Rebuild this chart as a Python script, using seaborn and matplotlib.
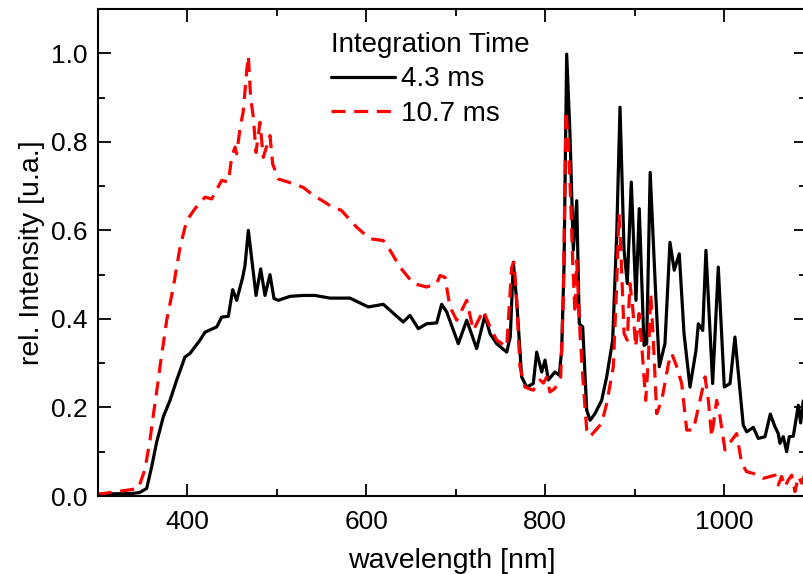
import matplotlib
matplotlib.use("Agg")
import matplotlib.pyplot as plt
from matplotlib.ticker import MultipleLocator
import seaborn as sns
import pandas as pd

# ---- data ----
wl_43 = [300, 320, 340, 347, 354.7, 360.3, 365.9, 369.6, 373.3, 380.8, 388.3, 397.5, 403.1,
         414.3, 419.9, 433, 438.5, 446, 450.8, 455.3, 462, 464.6, 468.3, 472.7, 476.9, 482.1,
         486.9, 492.5, 497, 501.8, 514.9, 529.7, 542.8, 559.6, 581.9, 602.4, 619.1, 641.4,
         648.9, 658.2, 667.6, 678.8, 684.3, 689.9, 702.9, 712.3, 723.4, 732.7, 738.3, 745.8,
         757, 761, 764.4, 768.1, 773.7, 779.3, 786.7, 790.5, 796.1, 799.8, 803.5, 810.9,
         815.7, 818.4, 821, 824, 827.7, 831.4, 835.2, 838.1, 841.9, 846.4, 850.1, 855.6,
         863.1, 868.7, 875.4, 879.9, 883.6, 888.1, 891.7, 896.2, 901.4, 905.1, 910.4, 913.4,
         917.3, 922.9, 927.5, 933.8, 939.4, 944.2, 949.8, 955.1, 961.8, 968.5, 971.1, 976,
         979.6, 987.1, 993.4, 1000.1, 1006.5, 1012, 1016.9, 1021.3, 1025.1, 1032.5, 1038.1,
         1045.6, 1051.5, 1056.8, 1060.4, 1062.3, 1066, 1069.8, 1072.7, 1077.2, 1082.8,
         1085.4, 1088.4, 1092]
int_43 = [0.004, 0.005, 0.006, 0.008, 0.017, 0.066, 0.122, 0.150, 0.179, 0.216, 0.262, 0.314,
          0.322, 0.352, 0.370, 0.382, 0.404, 0.406, 0.466, 0.442, 0.494, 0.521, 0.600, 0.525,
          0.453, 0.513, 0.453, 0.500, 0.446, 0.442, 0.451, 0.453, 0.453, 0.447, 0.447, 0.427,
          0.433, 0.393, 0.408, 0.378, 0.389, 0.391, 0.433, 0.416, 0.344, 0.397, 0.333, 0.408,
          0.367, 0.344, 0.325, 0.360, 0.528, 0.442, 0.269, 0.246, 0.254, 0.325, 0.280, 0.307,
          0.262, 0.280, 0.273, 0.329, 0.517, 0.998, 0.818, 0.555, 0.667, 0.389, 0.382, 0.194,
          0.171, 0.186, 0.216, 0.269, 0.352, 0.592, 0.878, 0.555, 0.480, 0.709, 0.442, 0.649,
          0.340, 0.344, 0.731, 0.480, 0.292, 0.344, 0.573, 0.510, 0.547, 0.367, 0.246, 0.329,
          0.389, 0.374, 0.555, 0.254, 0.517, 0.246, 0.254, 0.359, 0.254, 0.160, 0.145, 0.155,
          0.130, 0.134, 0.185, 0.156, 0.141, 0.119, 0.134, 0.100, 0.134, 0.135, 0.205, 0.165,
          0.215, 0.190]

wl_107 = [300, 315, 332.4, 345.4, 352.8, 358.4, 362.1, 367.7, 369.6, 377.1, 384.5, 392, 399.4,
          408.7, 419.9, 427.4, 438.5, 446, 449.7, 453.4, 455.3, 459, 462.7, 466.5, 468.3, 470.9,
          473.9, 476.9, 481.3, 485, 492.5, 495.5, 501.8, 513, 529.7, 539.1, 559.6, 572.3, 589.4,
          604.2, 619.1, 626.6, 637.8, 652.6, 667.6, 678.8, 682.5, 688.1, 693.6, 701.1, 712.3,
          719.7, 730.8, 738.3, 745.8, 757, 762.6, 765.1, 768.1, 771.8, 777.4, 786.7, 794.2,
          798, 801.7, 805.3, 810.9, 817.3, 820.2, 823.2, 825.8, 828.5, 830.7, 833.3, 835.2,
          838.9, 842.5, 846.4, 850.1, 863.1, 868.7, 876.1, 879.9, 882.4, 884.7, 888.1, 891.7,
          894.7, 897.7, 901.1, 904.8, 908.5, 912.3, 915.2, 917.9, 920.8, 924.6, 930.2, 937.7,
          941.4, 947, 952.5, 958.1, 965.5, 973, 978.6, 982.3, 986, 991.6, 995.3, 1000.9,
          1008.4, 1013.9, 1019.5, 1025, 1032.5, 1040, 1043.7, 1056.8, 1060.4, 1064.2, 1067.9,
          1071.6, 1075.4, 1079.1, 1082.8, 1086.6, 1089, 1092]
int_107 = [0.004, 0.008, 0.013, 0.017, 0.060, 0.126, 0.182, 0.262, 0.292, 0.397, 0.472, 0.562,
           0.622, 0.649, 0.675, 0.671, 0.713, 0.709, 0.765, 0.788, 0.773, 0.829, 0.870, 0.961,
           0.994, 0.900, 0.855, 0.776, 0.844, 0.765, 0.814, 0.750, 0.716, 0.709, 0.697, 0.682,
           0.656, 0.645, 0.607, 0.581, 0.577, 0.555, 0.517, 0.480, 0.472, 0.480, 0.498, 0.494,
           0.427, 0.397, 0.442, 0.374, 0.419, 0.382, 0.352, 0.337, 0.517, 0.528, 0.442, 0.292,
           0.246, 0.239, 0.262, 0.255, 0.269, 0.235, 0.243, 0.269, 0.442, 0.870, 0.803, 0.667,
           0.532, 0.412, 0.532, 0.367, 0.254, 0.149, 0.134, 0.164, 0.209, 0.292, 0.480, 0.637,
           0.547, 0.367, 0.352, 0.480, 0.427, 0.337, 0.412, 0.322, 0.216, 0.307, 0.457, 0.352,
           0.186, 0.216, 0.299, 0.322, 0.292, 0.254, 0.149, 0.149, 0.216, 0.269, 0.216, 0.134,
           0.216, 0.179, 0.104, 0.126, 0.141, 0.074, 0.055, 0.051, 0.044, 0.040, 0.047, 0.025,
           0.044, 0.021, 0.036, 0.047, 0.010, 0.044, 0.029, 0.044, 0.035]

series_labels = ["4.3 ms", "10.7 ms"]
legend_title = "Integration Time"
x_ticks = [400, 600, 800, 1000]
y_ticks = [0.0, 0.2, 0.4, 0.6, 0.8, 1.0]

# ---- plot ----
sns.set_style("ticks")
plt.rcParams['font.family'] = ['Liberation Sans', 'DejaVu Sans']
plt.rcParams['text.color'] = 'black'
plt.rcParams['axes.labelcolor'] = 'black'
plt.rcParams['xtick.color'] = 'black'
plt.rcParams['ytick.color'] = 'black'

fig = plt.figure(figsize=(8.04, 5.74), dpi=100)
W, H = 804, 574
ax = fig.add_axes([97.7 / W, 78 / H, (806 - 97.7) / W, 487 / H])

df43 = pd.DataFrame({"wavelength": wl_43, "intensity": int_43})
df107 = pd.DataFrame({"wavelength": wl_107, "intensity": int_107})

sns.lineplot(data=df43, x="wavelength", y="intensity", ax=ax, color="black",
             linewidth=2.3, label=series_labels[0])
sns.lineplot(data=df107, x="wavelength", y="intensity", ax=ax, color="#ff0000",
             linewidth=2.3, linestyle=(0, (4.4, 2.7)), label=series_labels[1])

ax.set_xlim(300, 1091.4)
ax.set_ylim(0, 1.1)
ax.set_xticks(x_ticks)
ax.set_yticks(y_ticks)
ax.set_yticklabels([f"{v:.1f}" for v in y_ticks])
ax.xaxis.set_minor_locator(MultipleLocator(100))
ax.yaxis.set_minor_locator(MultipleLocator(0.1))

for s in ax.spines.values():
    s.set_linewidth(1.5)
    s.set_color("black")
ax.tick_params(which="both", direction="in", top=True, right=True, width=1.3,
               colors="black", labelcolor="black", labelsize=19)
ax.tick_params(which="major", length=9)
ax.tick_params(which="minor", length=5)
ax.tick_params(axis="x", which="major", pad=10)
ax.tick_params(axis="y", which="major", pad=7)

ax.set_xlabel("wavelength [nm]", fontsize=20.5, color="black")
ax.set_ylabel("rel. Intensity [u.a.]", fontsize=20.5, color="black")
ax.xaxis.set_label_coords(0.5, -0.107)
ax.yaxis.set_label_coords(-0.075, 0.5)

leg = ax.legend(title=legend_title, loc="upper left",
                bbox_to_anchor=(331 / W, 1 - 32 / H), bbox_transform=fig.transFigure,
                frameon=False, fontsize=20, title_fontsize=20, handlelength=2.3,
                handletextpad=0.22, labelspacing=0.3, borderpad=0, borderaxespad=0,
                alignment="left")
leg.get_title().set_color("black")
for t in leg.get_texts():
    t.set_color("black")

fig.savefig("out.png", dpi=100)
